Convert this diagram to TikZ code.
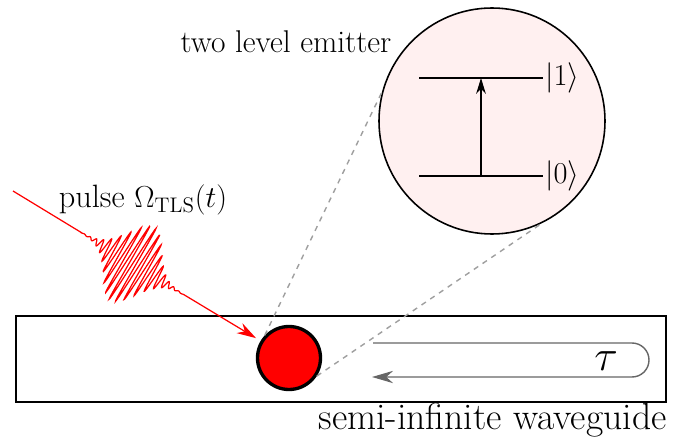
\documentclass[tikz,border=0pt]{standalone}
\usepackage{amsmath}
\usetikzlibrary{arrows.meta, positioning}

\begin{document}
\begin{tikzpicture}[
    >={Stealth},
    waveguide/.style={draw, line width=1pt, minimum width=13cm, minimum height=1.72cm, inner sep=0pt},
    atom/.style={circle, draw, line width=1.9pt, fill=red, minimum size=1.26cm, inner sep=0pt},
    zoombox/.style={circle, draw, line width=0.9pt, fill=red!6, minimum size=4.52cm, inner sep=0pt},
    level/.style={line width=0.9pt},
    guide/.style={dashed, gray!75, line width=0.8pt},
    pulse/.style={red, line width=0.7pt},
    delay/.style={-{Stealth[length=12pt, width=7pt]}, black!60, line width=0.8pt}
]

\useasboundingbox (0,0) rectangle (13.68,8.74);

% waveguide and emitter
\node[waveguide] (wg) at (6.82,1.56) {};
\node[below left=0pt and 0pt of wg.south east, font=\fontsize{21.4}{24}\selectfont, inner sep=0pt] (wglabel) {semi-infinite waveguide};
\node[atom] (tls) at (5.78,1.58) {};

% zoomed level scheme
\node[zoombox] (emitter) at (9.84,6.32) {};
\node[font=\fontsize{17.9}{21}\selectfont] (emlabel) at (5.72,7.90) {two level emitter};
\coordinate (g0a) at (8.38,5.22);
\coordinate (g0b) at (10.86,5.22);
\coordinate (g1a) at (8.38,7.18);
\coordinate (g1b) at (10.86,7.18);
\coordinate (up0) at (9.62,5.22);
\coordinate (up1) at (9.62,7.18);
\draw[level] (g0a) -- (g0b);
\draw[level] (g1a) -- (g1b);
\node[right=0pt of g0b, font=\LARGE, inner sep=1pt] (ket0) {$|0\rangle$};
\node[right=0pt of g1b, font=\LARGE, inner sep=1pt] (ket1) {$|1\rangle$};
\draw[level, -{Stealth[length=9pt, width=5.5pt]}] (up0) -- (up1);

\draw[guide] (tls.137) -- (emitter.165);
\draw[guide] (tls.-33) -- (emitter.-64);

% round trip
\coordinate (tin) at (7.46,1.88);
\coordinate (tout) at (7.44,1.20);
\draw[delay] (tin) -- (12.64,1.88) arc[start angle=90, end angle=-90, radius=0.34] -- (tout);
\node[font=\fontsize{29}{32}\selectfont] (tau) at (12.12,1.52) {$\tau$};

% incoming pulse
\coordinate (src) at (0.26,4.92);
\node[font=\fontsize{18.4}{22}\selectfont] (plabel) at (2.86,4.74) {pulse $\Omega_{\mathrm{TLS}}(t)$};
\begin{scope}[shift={(src)}, rotate=-31.3]
\draw[pulse] (0,0) -- (1.6,0) -- plot[domain=1.6:4.0, samples=400] (\x, {0.85*exp(-((\x-2.8)/0.52)^2)*sin((\x-2.8)*2770)}) coordinate (pktend);
\end{scope}
\draw[pulse, -{Stealth[length=11pt, width=6.5pt]}, shorten >=3pt] (pktend) -- (tls);

\end{tikzpicture}
\end{document}
